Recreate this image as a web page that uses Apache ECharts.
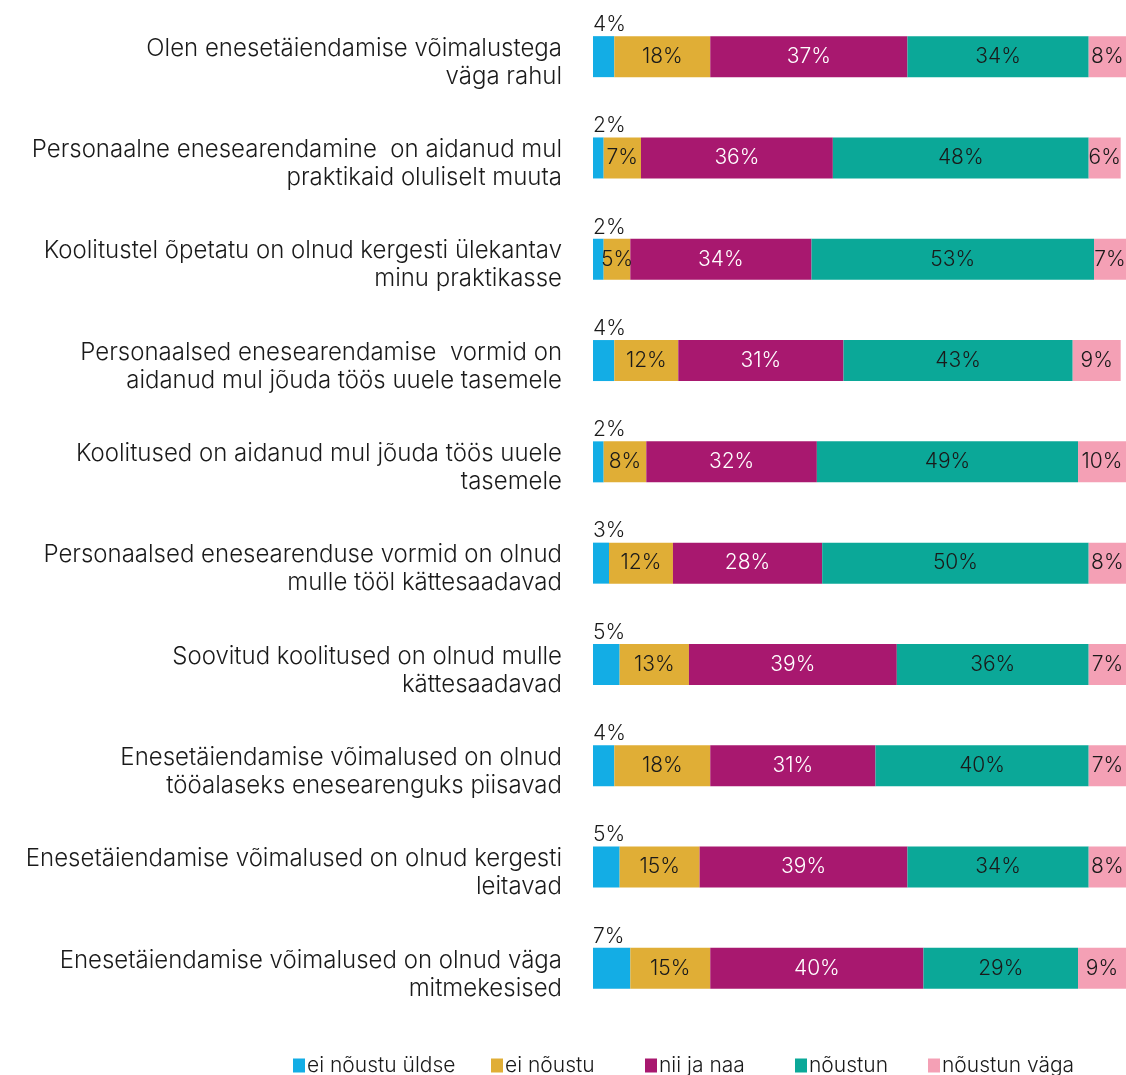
<!DOCTYPE html>
<html>
<head>
<meta charset="utf-8">
<script src="https://cdn.jsdelivr.net/npm/echarts@6/dist/echarts.min.js"></script>
<style>
  html, body { margin: 0; padding: 0; background: #fff; }
  #chart { width: 1126px; height: 1075px; }
</style>
</head>
<body>
<div id="chart"></div>
<script>
// kategooriad (ülevalt alla)
const categories = [
  "Olen enesetäiendamise võimalustega\nväga rahul",
  "Personaalne enesearendamine  on aidanud mul\npraktikaid oluliselt muuta",
  "Koolitustel õpetatu on olnud kergesti ülekantav\nminu praktikasse",
  "Personaalsed enesearendamise  vormid on\naidanud mul jõuda töös uuele tasemele",
  "Koolitused on aidanud mul jõuda töös uuele\ntasemele",
  "Personaalsed enesearenduse vormid on olnud\nmulle tööl kättesaadavad",
  "Soovitud koolitused on olnud mulle\nkättesaadavad",
  "Enesetäiendamise võimalused on olnud\ntööalaseks enesearenguks piisavad",
  "Enesetäiendamise võimalused on olnud kergesti\nleitavad",
  "Enesetäiendamise võimalused on olnud väga\nmitmekesised"
];

const seriesNames = ["ei nõustu üldse", "ei nõustu", "nii ja naa", "nõustun", "nõustun väga"];

const eiNoustuYldse = [4, 2, 2, 4, 2, 3, 5, 4, 5, 7];
const eiNoustu = [18, 7, 5, 12, 8, 12, 13, 18, 15, 15];
const niiJaNaa = [37, 36, 34, 31, 32, 28, 39, 31, 39, 40];
const noustun = [34, 48, 53, 43, 49, 50, 36, 40, 34, 29];
const noustunVaga = [8, 6, 7, 9, 10, 8, 7, 7, 8, 9];

const colors = ["#13ade5", "#e0ae36", "#a8186f", "#0ba898", "#f4a0b5"];

const FONT = "Inter";
const chart = echarts.init(document.getElementById("chart"));

const makeSeries = (name, data, idx) => {
  let label = {
    show: true,
    position: "inside",
    formatter: "{c}%",
    color: idx === 2 ? "#ffffff" : "#1a1a1a",
    fontFamily: FONT,
    fontWeight: 300,
    fontSize: 21
  };
  // väikseim osa: silt riba kohal vasakul
  if (idx === 0) {
    label = {
      show: true,
      position: [0, -1],
      align: "left",
      verticalAlign: "bottom",
      formatter: "{c}%",
      color: "#1a1a1a",
      fontFamily: FONT,
      fontWeight: 300,
      fontSize: 21
    };
  }
  return {
    name: name,
    type: "bar",
    stack: "total",
    barWidth: 41,
    data: data,
    itemStyle: { color: colors[idx] },
    label: label,
    emphasis: { disabled: true }
  };
};

const legendLefts = [288, 486, 640, 790, 923];

const option = {
  animation: false,
  backgroundColor: "#ffffff",
  grid: { left: 593, right: 0, top: 6, bottom: 56, containLabel: false },
  xAxis: {
    type: "value",
    min: 0,
    max: 100,
    show: false
  },
  yAxis: {
    type: "category",
    inverse: true,
    data: categories,
    axisLine: { show: false },
    axisTick: { show: false },
    axisLabel: {
      margin: 31,
      fontFamily: FONT,
      fontWeight: 300,
      fontSize: 24,
      lineHeight: 28,
      color: "#1a1a1a",
      align: "right",
      // tühi rida üleval, et tekst veidi allapoole nihkuks
      formatter: (v) => "{s| }\n" + v,
      rich: {
        s: { fontSize: 1, lineHeight: 12 }
      }
    }
  },
  legend: seriesNames.map((n, i) => ({
    data: [n],
    left: legendLefts[i],
    top: 1050,
    itemWidth: 12,
    itemHeight: 14,
    itemGap: 0,
    icon: "rect",
    selectedMode: false,
    textStyle: { fontFamily: FONT, fontWeight: 300, fontSize: 21, color: "#1a1a1a", padding: [0, 0, 0, -3] }
  })),
  series: [
    makeSeries(seriesNames[0], eiNoustuYldse, 0),
    makeSeries(seriesNames[1], eiNoustu, 1),
    makeSeries(seriesNames[2], niiJaNaa, 2),
    makeSeries(seriesNames[3], noustun, 3),
    makeSeries(seriesNames[4], noustunVaga, 4)
  ]
};

chart.setOption(option);
</script>
</body>
</html>
